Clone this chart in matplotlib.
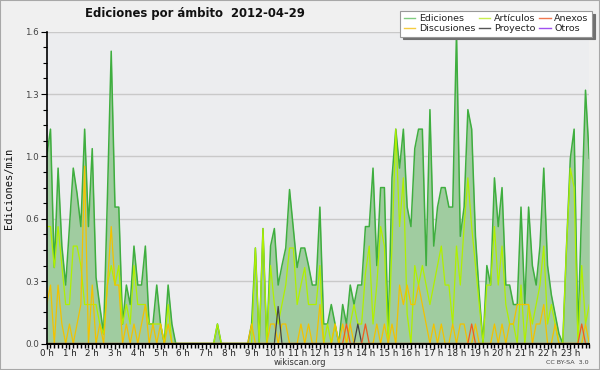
import matplotlib
matplotlib.use("Agg")
import matplotlib.pyplot as plt
from matplotlib.lines import Line2D
from matplotlib.patches import Rectangle
import numpy as np

# 10-minute buckets, 0:00 .. 23:50 (144 points)
hour_labels = [f"{h} h" for h in range(24)]
ytick_values = [0.0, 0.32, 0.64, 0.96, 1.28, 1.6]
ytick_labels = ["0.0", "0.3", "0.6", "1.0", "1.3", "1.6"]

ediciones = [
    0.96, 1.10, 0.39, 0.90, 0.50, 0.30,
    0.60, 0.90, 0.77, 0.60, 1.10, 0.60,
    1.00, 0.34, 0.19, 0.05, 0.75, 1.50,
    0.70, 0.70, 0.10, 0.30, 0.20, 0.50,
    0.30, 0.30, 0.50, 0.10, 0.10, 0.30,
    0.10, 0.00, 0.30, 0.10, 0.00, 0.00,
    0.00, 0.00, 0.00, 0.00, 0.00, 0.00,
    0.00, 0.00, 0.00, 0.10, 0.00, 0.00,
    0.00, 0.00, 0.00, 0.00, 0.00, 0.00,
    0.10, 0.49, 0.00, 0.59, 0.00, 0.50,
    0.59, 0.30, 0.40, 0.49, 0.79, 0.59,
    0.39, 0.49, 0.49, 0.40, 0.30, 0.30,
    0.70, 0.10, 0.10, 0.20, 0.10, 0.00,
    0.20, 0.10, 0.30, 0.20, 0.30, 0.30,
    0.60, 0.60, 0.90, 0.40, 0.80, 0.80,
    0.05, 0.85, 1.10, 0.90, 1.10, 0.70,
    0.60, 1.00, 1.10, 1.10, 0.40, 1.20,
    0.50, 0.70, 0.80, 0.80, 0.70, 0.70,
    1.60, 0.55, 0.70, 1.20, 1.10, 0.55,
    0.25, 0.00, 0.40, 0.30, 0.85, 0.60,
    0.80, 0.30, 0.30, 0.20, 0.20, 0.70,
    0.20, 0.70, 0.40, 0.30, 0.50, 0.90,
    0.40, 0.25, 0.15, 0.05, 0.00, 0.50,
    0.95, 1.10, 0.05, 0.70, 1.30, 0.95,
]

articulos = [
    0.60, 0.60, 0.39, 0.60, 0.40, 0.20,
    0.20, 0.50, 0.50, 0.40, 0.20, 0.20,
    0.20, 0.20, 0.10, 0.05, 0.30, 0.40,
    0.30, 0.40, 0.10, 0.20, 0.10, 0.40,
    0.20, 0.20, 0.20, 0.10, 0.10, 0.10,
    0.10, 0.00, 0.20, 0.00, 0.00, 0.00,
    0.00, 0.00, 0.00, 0.00, 0.00, 0.00,
    0.00, 0.00, 0.00, 0.10, 0.00, 0.00,
    0.00, 0.00, 0.00, 0.00, 0.00, 0.00,
    0.00, 0.49, 0.00, 0.59, 0.00, 0.40,
    0.20, 0.10, 0.20, 0.30, 0.49, 0.49,
    0.20, 0.30, 0.39, 0.20, 0.20, 0.20,
    0.40, 0.00, 0.10, 0.00, 0.10, 0.00,
    0.00, 0.00, 0.10, 0.20, 0.10, 0.10,
    0.36, 0.50, 0.10, 0.30, 0.60, 0.50,
    0.00, 0.50, 1.10, 0.60, 0.85, 0.15,
    0.00, 0.40, 0.30, 0.40, 0.30, 0.20,
    0.30, 0.40, 0.50, 0.30, 0.30, 0.10,
    0.50, 0.30, 0.60, 0.85, 0.60, 0.40,
    0.20, 0.00, 0.30, 0.30, 0.60, 0.30,
    0.50, 0.20, 0.10, 0.10, 0.00, 0.30,
    0.00, 0.20, 0.10, 0.20, 0.30, 0.50,
    0.10, 0.20, 0.10, 0.00, 0.00, 0.50,
    0.90, 0.80, 0.00, 0.40, 0.10, 0.20,
]

discusiones = [
    0.20, 0.30, 0.00, 0.30, 0.10, 0.00,
    0.10, 0.00, 0.10, 0.20, 0.91, 0.00,
    0.30, 0.00, 0.10, 0.00, 0.30, 0.60,
    0.30, 0.30, 0.00, 0.10, 0.00, 0.10,
    0.00, 0.10, 0.20, 0.00, 0.10, 0.00,
    0.10, 0.00, 0.10, 0.00, 0.00, 0.00,
    0.00, 0.00, 0.00, 0.00, 0.00, 0.00,
    0.00, 0.00, 0.00, 0.00, 0.00, 0.00,
    0.00, 0.00, 0.00, 0.00, 0.00, 0.00,
    0.10, 0.00, 0.00, 0.00, 0.00, 0.10,
    0.10, 0.00, 0.10, 0.10, 0.00, 0.00,
    0.00, 0.10, 0.00, 0.10, 0.00, 0.00,
    0.20, 0.00, 0.00, 0.00, 0.10, 0.00,
    0.10, 0.00, 0.10, 0.00, 0.00, 0.00,
    0.00, 0.00, 0.00, 0.10, 0.00, 0.10,
    0.00, 0.10, 0.00, 0.30, 0.20, 0.30,
    0.20, 0.20, 0.30, 0.20, 0.10, 0.00,
    0.10, 0.00, 0.10, 0.00, 0.00, 0.10,
    0.00, 0.10, 0.10, 0.00, 0.00, 0.10,
    0.00, 0.00, 0.00, 0.00, 0.10, 0.00,
    0.10, 0.00, 0.10, 0.10, 0.20, 0.20,
    0.20, 0.20, 0.00, 0.10, 0.10, 0.20,
    0.00, 0.00, 0.10, 0.00, 0.00, 0.00,
    0.00, 0.00, 0.00, 0.00, 0.10, 0.00,
]

anexos_idx = [79, 84, 112, 141]
anexos_val = [0.10, 0.10, 0.10, 0.10]
proyecto_idx = [61, 82]
proyecto_val = [0.19, 0.10]

n = len(ediciones)
x = np.arange(n)
anexos = np.zeros(n)
anexos[anexos_idx] = anexos_val
proyecto = np.zeros(n)
proyecto[proyecto_idx] = proyecto_val
otros = np.zeros(n)

C_FILL = "#a0cca0"
C_ED = "#3fae3f"
C_ART = "#b0f000"
C_DIS = "#f2c200"
C_ANE = "#f05a1e"
C_PRO = "#444444"
C_OTR = "#9040e0"

fig = plt.figure(figsize=(6, 3.7), dpi=100)
fig.patch.set_facecolor("#f0f0f0")
ax = fig.add_axes([46.7 / 600, 1 - 343.5 / 370, (589.3 - 46.7) / 600, (343.5 - 31.7) / 370])
ax.set_facecolor("#ecedef")

for yv in ytick_values[1:]:
    ax.axhline(yv, color="#c9c9c9", lw=1.0, zorder=1)

ax.fill_between(x, 0, ediciones, color=C_FILL, lw=0, zorder=2)
ax.plot(x, otros, color=C_OTR, lw=0.9, zorder=2.5)
ax.plot(x, ediciones, color=C_ED, lw=1.1, zorder=3)
ax.plot(x, articulos, color=C_ART, lw=0.9, zorder=4)
ax.plot(x, discusiones, color=C_DIS, lw=0.9, zorder=5)
ax.plot(x, proyecto, color=C_PRO, lw=0.9, zorder=6)
ax.plot(x, anexos, color=C_ANE, lw=0.9, zorder=7)

ax.set_xlim(0, n - 1)
ax.set_ylim(0, 1.6)

for s in ["top", "right"]:
    ax.spines[s].set_visible(False)
ax.spines["left"].set_color("black")
ax.spines["bottom"].set_color("black")
ax.spines["left"].set_linewidth(1.2)
ax.spines["bottom"].set_linewidth(1.4)
ax.spines["left"].set_zorder(10)
ax.spines["bottom"].set_zorder(10)

ax.set_xticks(np.arange(0, n, 6))
ax.set_xticklabels(hour_labels, fontsize=6.3, color="#222222")
ax.set_xticks(np.arange(0, n, 1), minor=True)
ax.tick_params(axis="x", which="major", length=3.5, width=1, pad=0.5, direction="out")
ax.tick_params(axis="x", which="minor", length=3, width=1, direction="out")

ax.set_yticks(ytick_values)
ax.set_yticklabels(ytick_labels, fontsize=6.3, color="#444444")
ax.set_yticks(np.arange(0, 1.61, 0.08), minor=True)
ax.tick_params(axis="y", which="major", length=4, width=0.8, pad=1.5, direction="out")
ax.tick_params(axis="y", which="minor", length=3, width=0.8, direction="out")

fig.text(9 / 600, 1 - 188 / 370, "Ediciones/min", rotation=90, ha="center", va="center",
         fontsize=7.5, family="DejaVu Sans Mono", color="#111111")

fig.text(85 / 600, 1 - 14 / 370, "Ediciones por ámbito  2012-04-29", ha="left", va="center",
         fontsize=8.4, fontweight="bold", color="#111111")

fig.text(300 / 600, 1 - 362.5 / 370, "wikiscan.org", ha="center", va="center",
         fontsize=6, color="#333333")
fig.text(589 / 600, 1 - 362.5 / 370, "CC BY-SA  3.0", ha="right", va="center",
         fontsize=4.6, color="#444444")

handles = [
    Line2D([], [], color="#80cc80", lw=1),
    Line2D([], [], color="#f5cc40", lw=1),
    Line2D([], [], color="#c8ee50", lw=1),
    Line2D([], [], color="#555555", lw=1),
    Line2D([], [], color="#f07850", lw=1),
    Line2D([], [], color="#a050f0", lw=1),
]
labels = ["Ediciones", "Discusiones", "Artículos", "Proyecto", "Anexos", "Otros"]
leg = fig.legend(handles, labels, ncol=3, loc="upper right",
                 bbox_to_anchor=(592 / 600, 1 - 11 / 370), bbox_transform=fig.transFigure,
                 fontsize=6.8, frameon=True, fancybox=False, shadow={"color": "#707070", "alpha": 1},
                 handlelength=1.2, handletextpad=0.4, columnspacing=0.4,
                 labelspacing=0.1, borderpad=0.35, borderaxespad=0)
leg.get_frame().set_edgecolor("#999999")
leg.get_frame().set_linewidth(0.8)
leg.get_frame().set_facecolor("white")
for t in leg.get_texts():
    t.set_color("#222222")

fig.patches.append(Rectangle((0, 0), 1, 1, transform=fig.transFigure, fill=False,
                             edgecolor="#a8a8a8", lw=1.5))

fig.savefig("out.png", dpi=100, facecolor=fig.get_facecolor())
